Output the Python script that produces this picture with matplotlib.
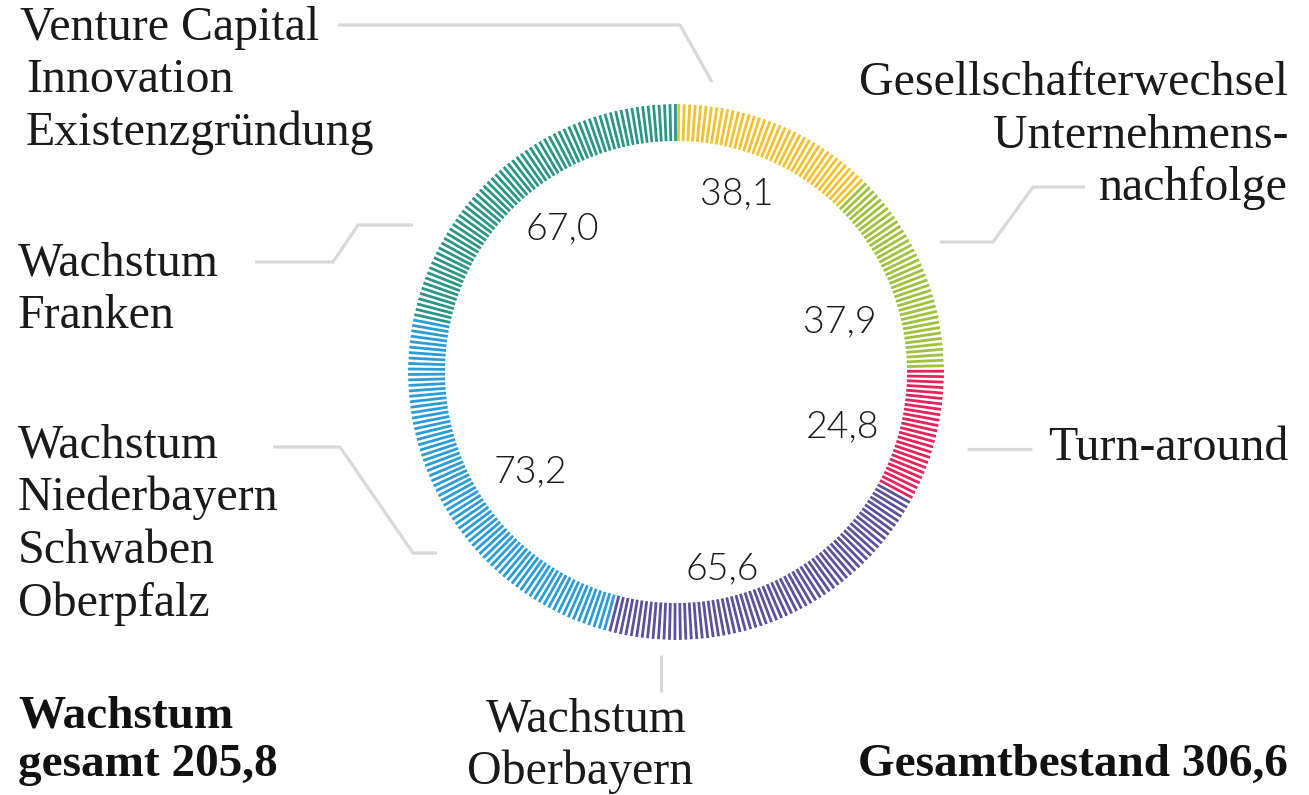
#!/usr/bin/env python3
"""Ring chart: Beteiligungsbestand nach Programm (tick-style donut)."""

import matplotlib.pyplot as plt
import numpy as np

# segment data, clockwise from 12 o'clock
segments = ["Venture Capital", "Gesellschafterwechsel", "Turn-around",
            "Wachstum Oberbayern", "Wachstum Niederbayern", "Wachstum Franken"]
values = [38.1, 37.9, 24.8, 65.6, 73.2, 67.0]
value_labels = ["38,1", "37,9", "24,8", "65,6", "73,2", "67,0"]
colors = ["#f2c130", "#9fc23c", "#e5245c", "#5b519c", "#2b9dd6", "#2a9688"]

W, H = 1309, 795
CX, CY = 676, 372
R_OUT, R_IN = 268, 231

LABEL_FONT = ["Liberation Serif", "DejaVu Serif"]
NUM_FONT = ["Lato", "Open Sans", "DejaVu Sans"]
LINE_COLOR = "#d9d9d9"

fig = plt.figure(figsize=(W / 100, H / 100), dpi=100)

# ring: one radial tick per unit
pax = fig.add_axes([(CX - R_OUT) / W, (H - CY - R_OUT) / H, 2 * R_OUT / W, 2 * R_OUT / H],
                   projection="polar")
pax.set_theta_zero_location("N")
pax.set_theta_direction(-1)
total = sum(values)
edges = np.cumsum([0] + values)
pos = np.arange(0.5, total, 1.0)
idx = np.searchsorted(edges, pos, side="right") - 1
theta = pos / total * 2 * np.pi
pax.vlines(theta, R_IN, R_OUT, colors=[colors[i] for i in idx], linewidth=2.0)
pax.set_ylim(0, R_OUT)
pax.axis("off")

# overlay in pixel coordinates for labels and leader lines
ax = fig.add_axes([0, 0, 1, 1])
ax.set_xlim(0, W)
ax.set_ylim(H, 0)
ax.axis("off")

label_kw = dict(family=LABEL_FONT, fontsize=34.5, color="#1a1a1a", va="baseline")

# value labels inside the ring
num_pos = [(737, 204), (840, 332), (843, 437), (722, 579), (530, 482), (562, 239)]
for (x, y), txt in zip(num_pos, value_labels):
    ax.text(x, y, txt, family=NUM_FONT, fontsize=27, fontweight=300,
            color="#1a1a1a", ha="center", va="baseline")

# category labels
ax.text(20, 40, "Venture Capital", ha="left", **label_kw)
ax.text(26, 92, "Innovation", ha="left", **label_kw)
ax.text(26, 145, "Existenzgründung", ha="left", **label_kw)

ax.text(1288, 95, "Gesellschafterwechsel", ha="right", **label_kw)
ax.text(1288, 148, "Unternehmens-", ha="right", **label_kw)
ax.text(1288, 200, "nachfolge", ha="right", **label_kw)

ax.text(1288, 460, "Turn-around", ha="right", **label_kw)

ax.text(18, 275, "Wachstum", ha="left", **label_kw)
ax.text(18, 328, "Franken", ha="left", **label_kw)

for i, t in enumerate(["Wachstum", "Niederbayern", "Schwaben", "Oberpfalz"]):
    ax.text(18, 458 + 52.5 * i, t, ha="left", **label_kw)

ax.text(586, 732, "Wachstum", ha="center", **label_kw)
ax.text(580, 784, "Oberbayern", ha="center", **label_kw)

bold_kw = dict(family=LABEL_FONT, fontsize=34, fontweight="bold",
               color="#111111", va="baseline")
ax.text(18, 727, "Wachstum", ha="left", **bold_kw)
ax.text(18, 776, "gesamt 205,8", ha="left", **bold_kw)
ax.text(1288, 776, "Gesamtbestand 306,6", ha="right", **bold_kw)

# leader lines
leaders = [
    ([338, 680, 712], [25, 25, 82]),
    ([1085, 1033, 993, 940], [187, 187, 242, 242]),
    ([967, 1032], [449, 449]),
    ([255, 333, 358, 413], [262, 262, 225, 225]),
    ([273, 340, 413, 437], [447, 447, 553, 553]),
    ([661, 661], [655, 692]),
]
for xs, ys in leaders:
    ax.plot(xs, ys, color=LINE_COLOR, linewidth=2.3, solid_capstyle="butt",
            solid_joinstyle="round")

fig.savefig("out.png", dpi=100)
plt.close(fig)
